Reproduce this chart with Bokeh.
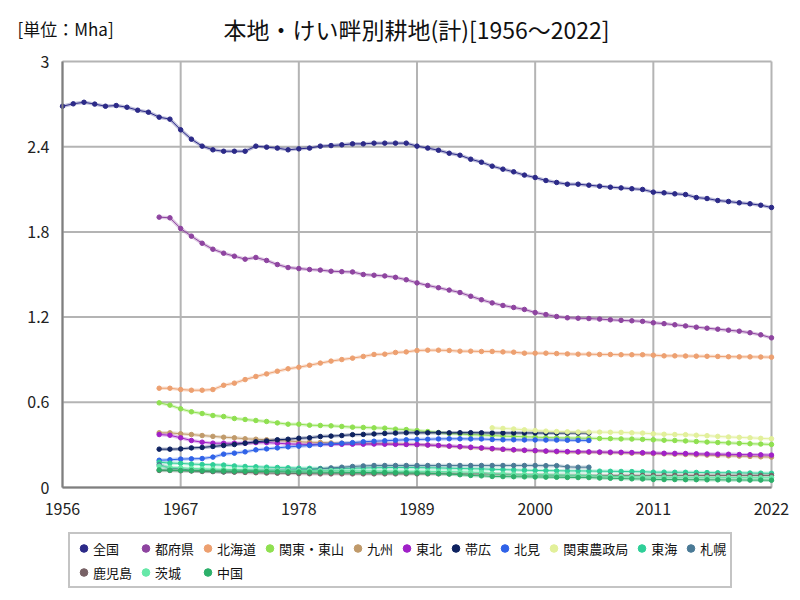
from bokeh.plotting import figure
from bokeh.models import (Range1d, FixedTicker, Legend, LegendItem, Label,
                          LinearAxis)
from bokeh.embed import file_html
from bokeh.resources import INLINE

years_all = list(range(1956, 2023))
years_65 = list(range(1965, 2023))
years_65_05 = list(range(1965, 2006))
years_96 = list(range(1996, 2023))

zenkoku = [2.685, 2.702, 2.713, 2.700, 2.685, 2.690, 2.678, 2.657, 2.643, 2.608,
           2.594, 2.519, 2.453, 2.404, 2.378, 2.368, 2.368, 2.368, 2.404, 2.397,
           2.390, 2.378, 2.385, 2.390, 2.404, 2.408, 2.413, 2.420, 2.420, 2.425,
           2.425, 2.425, 2.425, 2.404, 2.390, 2.375, 2.354, 2.340, 2.312, 2.291,
           2.263, 2.242, 2.223, 2.200, 2.183, 2.162, 2.148, 2.136, 2.136, 2.129,
           2.122, 2.115, 2.110, 2.104, 2.099, 2.080, 2.075, 2.068, 2.063, 2.042,
           2.035, 2.021, 2.014, 2.005, 1.998, 1.988, 1.972]
tofuken = [1.904, 1.899, 1.824, 1.770, 1.720, 1.678, 1.650, 1.629, 1.608, 1.620,
           1.599, 1.570, 1.549, 1.542, 1.535, 1.531, 1.523, 1.520, 1.518, 1.500,
           1.495, 1.490, 1.480, 1.463, 1.441, 1.423, 1.407, 1.390, 1.373, 1.347,
           1.322, 1.300, 1.282, 1.268, 1.254, 1.232, 1.218, 1.204, 1.195, 1.192,
           1.190, 1.186, 1.181, 1.177, 1.174, 1.170, 1.160, 1.154, 1.146, 1.138,
           1.129, 1.122, 1.115, 1.108, 1.101, 1.090, 1.075, 1.054]
hokkaido = [0.699, 0.699, 0.690, 0.685, 0.685, 0.690, 0.720, 0.735, 0.760, 0.782,
            0.800, 0.819, 0.836, 0.847, 0.861, 0.876, 0.890, 0.901, 0.911, 0.923,
            0.937, 0.939, 0.951, 0.955, 0.965, 0.967, 0.967, 0.965, 0.960, 0.960,
            0.958, 0.958, 0.955, 0.953, 0.946, 0.946, 0.946, 0.943, 0.941, 0.939,
            0.939, 0.937, 0.937, 0.935, 0.935, 0.935, 0.932, 0.927, 0.927, 0.926,
            0.925, 0.924, 0.923, 0.921, 0.920, 0.920, 0.919, 0.918]
kanto_tosan = [0.596, 0.580, 0.554, 0.533, 0.521, 0.507, 0.500, 0.486, 0.479, 0.472,
               0.465, 0.455, 0.446, 0.446, 0.439, 0.437, 0.434, 0.430, 0.425, 0.423,
               0.420, 0.418, 0.411, 0.408, 0.401, 0.394, 0.387, 0.380, 0.378, 0.372,
               0.370, 0.366, 0.362, 0.360, 0.357, 0.355, 0.352, 0.350, 0.349, 0.348,
               0.347, 0.345, 0.344, 0.342, 0.341, 0.339, 0.336, 0.333, 0.331, 0.328,
               0.324, 0.320, 0.317, 0.314, 0.311, 0.308, 0.306, 0.303]
kyushu = [0.385, 0.385, 0.378, 0.373, 0.366, 0.360, 0.354, 0.350, 0.343, 0.340,
          0.336, 0.331, 0.327, 0.322, 0.319, 0.317, 0.314, 0.312, 0.312, 0.311,
          0.310, 0.309, 0.307, 0.305, 0.303, 0.299, 0.295, 0.290, 0.286, 0.281,
          0.277, 0.272, 0.268, 0.264, 0.261, 0.258, 0.255, 0.252, 0.250, 0.249,
          0.248, 0.247, 0.245, 0.244, 0.242, 0.241, 0.239, 0.237, 0.235, 0.233,
          0.230, 0.228, 0.226, 0.223, 0.221, 0.219, 0.216, 0.214]
tohoku = [0.373, 0.368, 0.350, 0.331, 0.319, 0.312, 0.312, 0.312, 0.312, 0.316,
          0.316, 0.312, 0.307, 0.305, 0.303, 0.303, 0.303, 0.304, 0.305, 0.305,
          0.306, 0.305, 0.304, 0.303, 0.302, 0.299, 0.296, 0.292, 0.288, 0.284,
          0.279, 0.274, 0.270, 0.266, 0.263, 0.260, 0.257, 0.255, 0.253, 0.252,
          0.251, 0.250, 0.249, 0.248, 0.246, 0.245, 0.243, 0.241, 0.240, 0.239,
          0.237, 0.236, 0.235, 0.234, 0.232, 0.231, 0.230, 0.228]
obihiro = [0.270, 0.270, 0.272, 0.279, 0.282, 0.289, 0.296, 0.303, 0.312, 0.322,
           0.328, 0.336, 0.340, 0.347, 0.350, 0.359, 0.362, 0.366, 0.372, 0.374,
           0.377, 0.381, 0.383, 0.385, 0.385, 0.385, 0.386, 0.385, 0.386, 0.386,
           0.385, 0.384, 0.384, 0.384, 0.384, 0.384, 0.384, 0.383, 0.383, 0.383,
           0.383]
kitami = [0.192, 0.195, 0.200, 0.202, 0.204, 0.214, 0.235, 0.242, 0.251, 0.265,
          0.272, 0.279, 0.286, 0.291, 0.296, 0.303, 0.307, 0.312, 0.316, 0.322,
          0.326, 0.329, 0.333, 0.336, 0.338, 0.340, 0.342, 0.343, 0.343, 0.342,
          0.342, 0.338, 0.336, 0.336, 0.335, 0.335, 0.334, 0.334, 0.333, 0.332,
          0.331]
kanto_nosei = [0.420, 0.416, 0.412, 0.406, 0.401, 0.397, 0.394, 0.392, 0.391, 0.390,
               0.390, 0.389, 0.388, 0.385, 0.383, 0.378, 0.375, 0.373, 0.372, 0.368,
               0.365, 0.360, 0.356, 0.353, 0.350, 0.346, 0.343]
tokai = [0.178, 0.172, 0.170, 0.165, 0.162, 0.160, 0.158, 0.152, 0.148, 0.146,
         0.143, 0.141, 0.139, 0.136, 0.135, 0.134, 0.134, 0.135, 0.136, 0.137,
         0.139, 0.140, 0.141, 0.141, 0.140, 0.139, 0.138, 0.136, 0.134, 0.132,
         0.131, 0.128, 0.126, 0.124, 0.122, 0.120, 0.119, 0.118, 0.117, 0.117,
         0.116, 0.115, 0.114, 0.113, 0.112, 0.111, 0.108, 0.108, 0.107, 0.107,
         0.106, 0.105, 0.104, 0.104, 0.103, 0.102, 0.101, 0.100]
sapporo = [0.160, 0.136, 0.132, 0.120, 0.118, 0.114, 0.110, 0.112, 0.120, 0.120,
           0.121, 0.122, 0.123, 0.124, 0.125, 0.131, 0.138, 0.143, 0.148, 0.152,
           0.155, 0.155, 0.155, 0.155, 0.155, 0.155, 0.155, 0.155, 0.155, 0.155,
           0.155, 0.155, 0.155, 0.155, 0.155, 0.155, 0.154, 0.154, 0.145, 0.143,
           0.143]
kagoshima = [0.120, 0.120, 0.118, 0.116, 0.113, 0.112, 0.110, 0.108, 0.106, 0.104,
             0.102, 0.101, 0.100, 0.098, 0.097, 0.096, 0.096, 0.096, 0.096, 0.096,
             0.096, 0.096, 0.096, 0.096, 0.096, 0.096, 0.096, 0.096, 0.096, 0.096,
             0.096, 0.095, 0.093, 0.091, 0.090, 0.089, 0.088, 0.087, 0.086, 0.086,
             0.085, 0.085, 0.085, 0.085, 0.085, 0.085, 0.085, 0.085, 0.085, 0.085,
             0.085, 0.085, 0.085, 0.085, 0.085, 0.085, 0.085, 0.085]
ibaraki = [0.150, 0.142, 0.138, 0.135, 0.132, 0.130, 0.128, 0.126, 0.125, 0.124,
           0.123, 0.122, 0.121, 0.120, 0.120, 0.119, 0.119, 0.118, 0.118, 0.117,
           0.117, 0.116, 0.116, 0.115, 0.115, 0.114, 0.113, 0.112, 0.110, 0.108,
           0.106, 0.098, 0.096, 0.094, 0.092, 0.090, 0.089, 0.088, 0.087, 0.086,
           0.085, 0.080, 0.078, 0.077, 0.076, 0.075, 0.073, 0.073, 0.072, 0.072,
           0.071, 0.071, 0.071, 0.070, 0.070, 0.070, 0.069, 0.069]
chugoku = [0.124, 0.122, 0.120, 0.119, 0.118, 0.117, 0.116, 0.115, 0.114, 0.113,
           0.112, 0.111, 0.110, 0.109, 0.108, 0.108, 0.107, 0.107, 0.106, 0.106,
           0.105, 0.105, 0.104, 0.103, 0.102, 0.100, 0.098, 0.095, 0.090, 0.085,
           0.082, 0.078, 0.077, 0.076, 0.075, 0.074, 0.073, 0.072, 0.071, 0.070,
           0.070, 0.067, 0.065, 0.063, 0.061, 0.060, 0.057, 0.056, 0.056, 0.055,
           0.055, 0.054, 0.054, 0.053, 0.053, 0.052, 0.052, 0.051]

series = [
    ("全国", years_all, zenkoku, "#2c2a88"),
    ("都府県", years_65, tofuken, "#8e44a0"),
    ("北海道", years_65, hokkaido, "#eda070"),
    ("関東・東山", years_65, kanto_tosan, "#8fe050"),
    ("九州", years_65, kyushu, "#c09a6a"),
    ("東北", years_65, tohoku, "#a020c8"),
    ("帯広", years_65_05, obihiro, "#0e2260"),
    ("北見", years_65_05, kitami, "#2f62e8"),
    ("関東農政局", years_96, kanto_nosei, "#e2f09a"),
    ("東海", years_65, tokai, "#2ecf98"),
    ("札幌", years_65_05, sapporo, "#4a7a96"),
    ("鹿児島", years_65, kagoshima, "#786266"),
    ("茨城", years_65, ibaraki, "#66e8a8"),
    ("中国", years_65, chugoku, "#2cb06a"),
]

title_text = "本地・けい畔別耕地(計)[1956～2022]"
unit_text = "[単位：Mha]"
x_ticks = [1956, 1967, 1978, 1989, 2000, 2011, 2022]
y_ticks = [0, 0.6, 1.2, 1.8, 2.4, 3]
y_tick_labels = {0: "0", 0.6: "0.6", 1.2: "1.2", 1.8: "1.8", 2.4: "2.4", 3: "3"}
x_min, x_max = 1956, 2022
y_min, y_max = 0, 3

FONT = "Noto Sans CJK JP"

# canvas geometry (pixels): the data frame spans the whole canvas; the
# visible plot box lies at px 62..771 horizontally and 61..487 vertically
W, H = 798, 598
BOX_L, BOX_R, BOX_T, BOX_B = 62, 771, 61, 487
sx = (BOX_R - BOX_L) / (x_max - x_min)
sy = (BOX_B - BOX_T) / (y_max - y_min)
xr = Range1d(x_min - BOX_L / sx, x_min - BOX_L / sx + W / sx)
yr = Range1d(y_max + BOX_T / sy - H / sy, y_max + BOX_T / sy)

p = figure(width=W, height=H, output_backend="svg", toolbar_location=None,
           x_range=xr, y_range=yr, x_axis_type=None, y_axis_type=None,
           min_border=0, min_border_left=0, min_border_right=0,
           min_border_top=0, min_border_bottom=0,
           background_fill_color="white", border_fill_color="white")
p.outline_line_color = None
p.grid.visible = False

# grid (also forms the box outline)
p.segment(x0=x_ticks, y0=[y_min] * len(x_ticks), x1=x_ticks, y1=[y_max] * len(x_ticks),
          line_color="#b4b4b4", line_width=2)
p.segment(x0=[x_min] * len(y_ticks), y0=y_ticks, x1=[x_max] * len(y_ticks), y1=y_ticks,
          line_color="#b4b4b4", line_width=2)

yaxis = LinearAxis(fixed_location=x_min, bounds=(y_min, y_max),
                   ticker=FixedTicker(ticks=y_ticks),
                   major_label_overrides=y_tick_labels)
xaxis = LinearAxis(fixed_location=y_min, bounds=(x_min, x_max),
                   ticker=FixedTicker(ticks=x_ticks))
for ax in (xaxis, yaxis):
    ax.major_label_text_font = FONT
    ax.major_label_text_font_size = "16px"
    ax.major_label_text_color = "#222222"
    ax.major_tick_line_color = None
    ax.minor_tick_line_color = None
    ax.axis_line_color = "#7f7f7f"
    ax.axis_line_width = 2
xaxis.major_label_standoff = 9
yaxis.major_label_standoff = 7
p.add_layout(yaxis, "left")
p.add_layout(xaxis, "below")

items = []
for name, xs, ys, col in series:
    p.line(xs, ys, line_color=col, line_width=3.5, line_alpha=0.3)
    p.line(xs, ys, line_color=col, line_width=1)
    r = p.scatter(xs, ys, size=4.5, fill_color=col, line_color=col)
    items.append(LegendItem(label=name, renderers=[r]))

legend = Legend(items=items, location=(68, H - 588), orientation="horizontal", ncols=11,
                label_text_font=FONT, label_text_font_size="13px",
                label_text_color="#111111", glyph_width=19, glyph_height=20,
                label_standoff=0, spacing=4, padding=4, margin=0,
                border_line_color="#8a8a8a", border_line_width=2,
                background_fill_color="white", label_height=20)
p.add_layout(legend)

p.add_layout(Label(x=416, y=H - 28, x_units="screen", y_units="screen",
                   text=title_text, text_font=FONT, text_font_size="23px",
                   text_align="center", text_baseline="middle", text_color="#111111"))
p.add_layout(Label(x=17, y=H - 28, x_units="screen", y_units="screen",
                   text=unit_text, text_font=FONT, text_font_size="17px",
                   text_align="left", text_baseline="middle", text_color="#111111"))

open("out.html", "w").write(file_html(p, INLINE))
